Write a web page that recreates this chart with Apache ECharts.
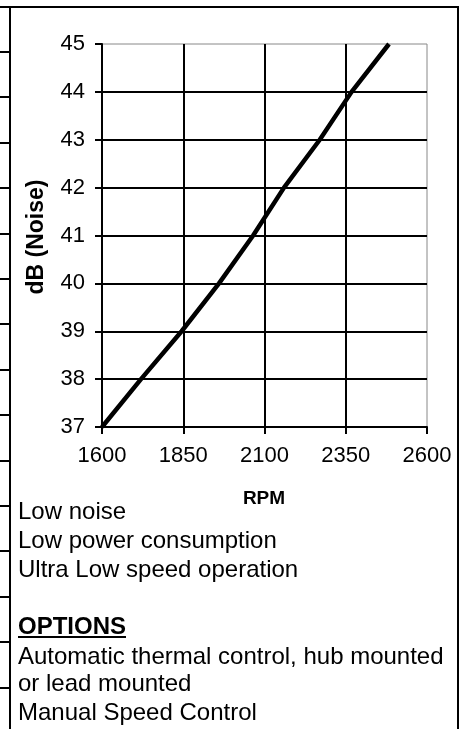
<!DOCTYPE html>
<html>
<head>
<meta charset="utf-8">
<script src="https://cdn.jsdelivr.net/npm/echarts@6/dist/echarts.min.js"></script>
<style>
html,body{margin:0;padding:0;background:#fff;}
#chart{width:464px;height:729px;}
</style>
</head>
<body>
<div id="chart"></div>
<script>
// Data
const rpm = [1600, 1720, 1845, 1960, 2065, 2160, 2270, 2368, 2483];
const noise = [37, 38, 39, 40, 41, 42, 43, 44, 45];
const xTicks = [1600, 1850, 2100, 2350, 2600];
const yTicks = [37, 38, 39, 40, 41, 42, 43, 44, 45];
const yTitle = 'dB (Noise)';
const xTitle = 'RPM';
const features = ['Low noise', 'Low power consumption', 'Ultra Low speed operation'];
const optionsTitle = 'OPTIONS';
const optionLines = ['Automatic thermal control, hub mounted', 'or lead mounted', 'Manual Speed Control'];

const FONT = '"Liberation Sans", Arial, Helvetica, sans-serif';
const chart = echarts.init(document.getElementById('chart'), null, {renderer: 'canvas'});

const ySplitColors = yTicks.map((v, i) => i === yTicks.length - 1 ? 'rgba(0,0,0,0)' : '#000');
const xSplitColors = xTicks.map((v, i) => i === xTicks.length - 1 ? 'rgba(0,0,0,0)' : '#000');

const graphics = [];
// table borders (decoration)
graphics.push({type: 'line', shape: {x1: 0, y1: 7, x2: 459, y2: 7}, style: {stroke: '#000', lineWidth: 2}});
graphics.push({type: 'line', shape: {x1: 10, y1: 7, x2: 10, y2: 729}, style: {stroke: '#000', lineWidth: 2}});
graphics.push({type: 'line', shape: {x1: 458, y1: 6, x2: 458, y2: 729}, style: {stroke: '#000', lineWidth: 2}});
for (let i = 0; i < 15; i++) {
  const y = Math.round(52 + i * 45.4);
  graphics.push({type: 'line', shape: {x1: 0, y1: y, x2: 10, y2: y}, style: {stroke: '#000', lineWidth: 2}});
}
// axis titles
graphics.push({type: 'text', x: 37, y: 237, rotation: Math.PI / 2,
  style: {text: yTitle, font: 'bold 23px ' + FONT, fill: '#000', align: 'center', verticalAlign: 'middle'}});
graphics.push({type: 'text', x: 264, y: 499,
  style: {text: xTitle, font: 'bold 19px ' + FONT, fill: '#000', align: 'center', verticalAlign: 'middle'}});
// feature text
const lineYs = [512, 541, 570];
features.forEach((t, i) => {
  graphics.push({type: 'text', x: 18, y: lineYs[i],
    style: {text: t, font: '24px ' + FONT, fill: '#000', align: 'left', verticalAlign: 'middle'}});
});
graphics.push({type: 'text', x: 18, y: 627,
  style: {text: optionsTitle, font: 'bold 24px ' + FONT, fill: '#000', align: 'left', verticalAlign: 'middle'}});
graphics.push({type: 'line', shape: {x1: 18, y1: 637, x2: 126, y2: 637}, style: {stroke: '#000', lineWidth: 2}});
const optYs = [657, 684, 713];
optionLines.forEach((t, i) => {
  graphics.push({type: 'text', x: 18, y: optYs[i],
    style: {text: t, font: '24px ' + FONT, fill: '#000', align: 'left', verticalAlign: 'middle'}});
});

const option = {
  animation: false,
  backgroundColor: '#fff',
  grid: {left: 102, top: 44, width: 325, height: 383, show: true, borderColor: '#888', borderWidth: 1, backgroundColor: 'transparent'},
  xAxis: {
    type: 'value', min: 1600, max: 2600, interval: 250,
    axisLine: {show: true, onZero: false, lineStyle: {color: '#000', width: 2}},
    axisTick: {show: true, inside: false, length: 7, lineStyle: {color: '#000', width: 2}},
    axisLabel: {color: '#000', fontSize: 22, fontFamily: FONT, margin: 18,
      formatter: v => xTicks.includes(v) ? String(v) : ''},
    splitLine: {show: true, lineStyle: {color: xSplitColors, width: 2}}
  },
  yAxis: {
    type: 'value', min: 37, max: 45, interval: 1,
    axisLine: {show: true, onZero: false, lineStyle: {color: '#000', width: 2}},
    axisTick: {show: true, inside: false, length: 7, lineStyle: {color: '#000', width: 2}},
    axisLabel: {color: '#000', fontSize: 22, fontFamily: FONT, margin: 17},
    splitLine: {show: true, lineStyle: {color: ySplitColors, width: 2}}
  },
  series: [{
    type: 'line',
    data: rpm.map((r, i) => [r, noise[i]]),
    showSymbol: false,
    symbol: 'none',
    lineStyle: {color: '#000', width: 4.5},
    z: 5
  }],
  graphic: graphics
};
chart.setOption(option);
</script>
</body>
</html>
